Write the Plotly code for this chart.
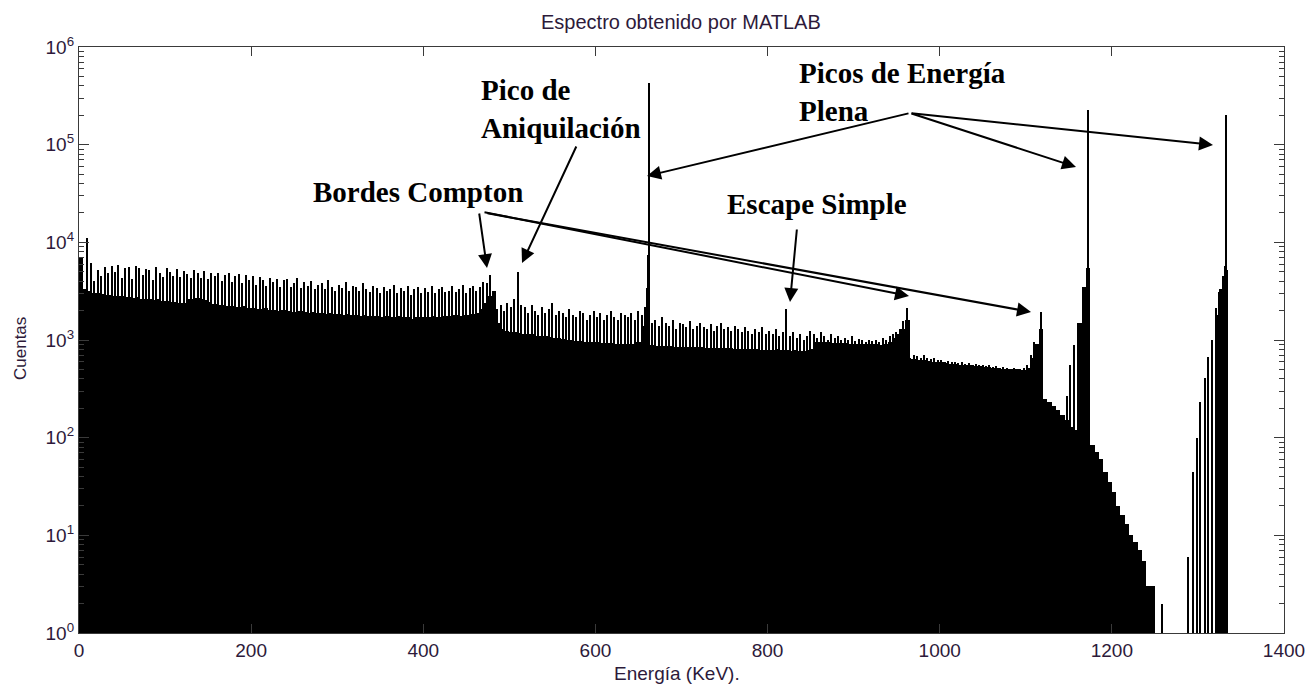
import plotly.graph_objects as go

# ---------------- data ----------------
# Solid part of the spectrum: counts per 5 keV bin (bin left edges 0, 5, 10, ...)
base_counts = [
    7000, 3300, 3200, 3000, 3000, 2950, 2900, 2900, 2850, 2800,      # 0-45
    2800, 2750, 2700, 2750, 2650, 2600, 2650, 2550, 2600, 2500,      # 50-95
    2500, 2450, 2450, 2400, 2400, 2600, 2650, 2700, 2650, 2550,      # 100-145
    2450, 2350, 2300, 2300, 2250, 2250, 2200, 2200, 2250, 2150,      # 150-195
    2150, 2100, 2100, 2150, 2050, 2050, 2000, 2050, 2000, 1950,      # 200-245
    1950, 2000, 1950, 1900, 1950, 1900, 1900, 1850, 1900, 1850,      # 250-295
    1850, 1800, 1850, 1800, 1800, 1750, 1800, 1750, 1750, 1750,      # 300-345
    1700, 1750, 1700, 1700, 1750, 1700, 1700, 1650, 1700, 1700,      # 350-395
    1700, 1700, 1750, 1700, 1750, 1750, 1750, 1800, 1750, 1800,      # 400-445
    1800, 1850, 1900, 2100, 2400, 2800, 3200, 1500, 1300, 1250,      # 450-495
    1200, 1200, 1180, 1150, 1150, 1150, 1100, 1100, 1100, 1080,      # 500-545
    1050, 1050, 1020, 1000, 1000, 980, 980, 960, 950, 950,           # 550-595
    950, 940, 930, 930, 920, 920, 900, 900, 920, 950,                # 600-645
    950, 1400, 880, 880, 870, 870, 860, 860, 850, 850,               # 650-695
    850, 850, 840, 840, 840, 830, 830, 830, 820, 820,                # 700-745
    820, 820, 810, 810, 810, 800, 800, 800, 790, 790,                # 750-795
    790, 790, 800, 790, 790, 780, 790, 780, 780, 790,                # 800-845
    800, 950, 960, 950, 950, 940, 940, 930, 930, 920,                # 850-895
    920, 910, 910, 900, 900, 900, 890, 900, 950, 1050,               # 900-945
    1150, 1300, 1600, 640, 640, 630, 620, 610, 600, 600,             # 950-995
    590, 580, 570, 570, 560, 560, 550, 550, 540, 540,                # 1000-1045
    530, 530, 520, 520, 510, 510, 500, 500, 500, 490,                # 1050-1095
    520, 650, 900, 1300, 250, 230, 210, 190, 170, 150,               # 1100-1145
    130, 120, 1500, 3500, 5500, 85, 72, 60, 45, 35,                  # 1150-1195
    28, 20, 16, 13, 10, 8.5, 7, 5.5, 3, 3,                           # 1200-1245
    None, None, None, None, None, None, None, None, None, None,      # 1250-1295
    None, None, None, None, 1800, 3300, 5200,                        # 1300-1330
]
base_energy = [2.5 + 5 * i for i in range(len(base_counts))]

# Narrow channel spikes on top of the continuum, every 4 keV from 2 to 1110 keV
spike_counts = [
    7000, 3000, 11000, 6200, 4000, 5200, 4500, 5600, 4800, 5700,     # 2-38
    5000, 5800, 4300, 5500, 5600, 4200, 5700, 5400, 4600, 5300,      # 42-78
    5200, 4100, 5600, 4900, 4400, 5500, 5000, 4500, 5300, 4400,      # 82-118
    5100, 4700, 4300, 5200, 4900, 4300, 5100, 4200, 4800, 4500,      # 122-158
    4900, 4000, 4600, 4800, 3900, 4500, 4700, 3800, 4600, 4100,      # 162-198
    4500, 3700, 4400, 4100, 3600, 4300, 3900, 4200, 3500, 4100,      # 202-238
    4200, 3500, 3800, 4300, 3400, 3900, 3600, 4000, 3300, 3700,      # 242-278
    3800, 3300, 4100, 3500, 3200, 3700, 3400, 3900, 3200, 3600,      # 282-318
    3500, 3200, 3800, 3300, 3100, 3600, 3400, 3000, 3500, 3200,      # 322-358
    3300, 3700, 3000, 3400, 3200, 3600, 2900, 3300, 3500, 3000,      # 362-398
    3400, 3100, 3600, 3000, 3300, 3500, 3100, 3200, 3600, 3100,      # 402-438
    3300, 3700, 3000, 3400, 3600, 3200, 3500, 3900, 3800, 4600,      # 442-478
    2400, 2100, 2300, 2000, 2400, 2200, 2600, 5000, 2300, 2200,      # 482-518
    1900, 2300, 2000, 1800, 2200, 1900, 2100, 2400, 1800, 2000,      # 522-558
    1900, 1700, 2100, 1800, 1700, 2000, 1900, 1600, 1800, 2000,      # 562-598
    1700, 1900, 1600, 1800, 2000, 1700, 1600, 1900, 1800, 1700,      # 602-638
    1900, 1600, 2000, 1800, 1700, 3500, 1500, 1600, 1400, 1700,      # 642-678
    1500, 1400, 1600, 1300, 1500, 1450, 1350, 1550, 1300, 1400,      # 682-718
    1500, 1350, 1300, 1450, 1250, 1400, 1500, 1300, 1350, 1250,      # 722-758
    1400, 1300, 1200, 1350, 1250, 1150, 1300, 1200, 1350, 1150,      # 762-798
    1250, 1150, 1300, 1100, 1200, 2100, 1100, 1200, 1050, 1150,      # 802-838
    1000, 1100, 1250, 1150, 1050, 1200, 1100, 1000, 1150, 1050,      # 842-878
    1100, 1000, 1050, 1000, 1100, 980, 1020, 1000, 960, 1000,        # 882-918
    980, 1000, 960, 1050, 1000, 1100, 1150, 1200, 1300, 1550,        # 922-958
    2150, 650, 700, 680, 660, 700, 650, 640, 660, 620,               # 962-998
    620, 600, 610, 590, 600, 580, 590, 570, 580, 560,                # 1002-1038
    570, 550, 560, 540, 550, 530, 540, 520, 530, 520,                # 1042-1078
    510, 520, 500, 510, 520, 560, 700, 950,                          # 1082-1110
]
spike_energy = [2 + 4 * i for i in range(len(spike_counts))]

# Individual lines: photopeaks (662, 1173, 1333 keV), edges and sparse tail channels
peak_energy = [658, 660, 661, 662, 1118, 1148, 1152, 1156, 1173, 1258,
               1289, 1294, 1299, 1303, 1308, 1312, 1316, 1321, 1325, 1329, 1332, 1333]
peak_counts = [2200, 3400, 7500, 430000, 1930, 270, 550, 880, 228000, 2,
               6, 44, 100, 230, 410, 670, 1000, 2150, 3100, 4500, 5700, 200000]

x_ticks = [0, 200, 400, 600, 800, 1000, 1200, 1400]
y_ticks = [1, 10, 100, 1000, 10000, 100000, 1000000]
y_ticktext = ["10<sup>0</sup>", "10<sup>1</sup>", "10<sup>2</sup>", "10<sup>3</sup>",
              "10<sup>4</sup>", "10<sup>5</sup>", "10<sup>6</sup>"]
y_minor = [m * 10 ** d for d in range(6) for m in range(2, 10)]

# ---------------- figure ----------------
W, H = 1305, 687
ML, MR, MT, MB = 79, 21, 47, 54
PW = W - ML - MR
PH = H - MT - MB
X0, X1 = 0, 1400
Y0, Y1 = 0, 6


def px2x(px):
    return X0 + (px - ML) / PW * (X1 - X0)


def py2y(py):
    return Y0 + (MT + PH - py) / PH * (Y1 - Y0)


txt_col = "#2d1a3a"
axis_col = "#3a3a3a"

fig = go.Figure()
fig.add_trace(go.Bar(x=base_energy, y=base_counts, width=5,
                     marker=dict(color="black", line=dict(width=0)),
                     showlegend=False, hoverinfo="skip"))
fig.add_trace(go.Bar(x=spike_energy, y=spike_counts, width=1.6,
                     marker=dict(color="black", line=dict(width=0)),
                     showlegend=False, hoverinfo="skip"))
fig.add_trace(go.Bar(x=peak_energy, y=peak_counts, width=1.6,
                     marker=dict(color="black", line=dict(width=0)),
                     showlegend=False, hoverinfo="skip"))

ann = []
lab_font = dict(family="Liberation Serif, Times New Roman, serif", size=29, color="black")
texts = [
    ("<b>Pico de<br>Aniquilación</b>", 479, 109),
    ("<b>Bordes Compton</b>", 311, 192),
    ("<b>Picos de Energía<br>Plena</b>", 797, 92),
    ("<b>Escape Simple</b>", 725, 204),
]
for t, px, py in texts:
    ann.append(dict(text=t, x=px2x(px), y=py2y(py), xref="x", yref="y",
                    xanchor="left", yanchor="middle", align="left",
                    showarrow=False, font=lab_font))

arrows = [
    # (head px, head py, tail px, tail py)
    (487, 268, 479, 212),
    (909, 296, 483, 212),
    (1031, 312, 486, 213),
    (522, 263, 577, 145),
    (647, 176, 910, 113),
    (1076, 167, 910, 113),
    (1213, 145, 910, 113),
    (790, 302, 797, 228),
]
for hx, hy, tx, ty in arrows:
    ann.append(dict(text="", x=px2x(hx), y=py2y(hy), ax=px2x(tx), ay=py2y(ty),
                    xref="x", yref="y", axref="x", ayref="y",
                    showarrow=True, arrowhead=2, arrowsize=1.4, arrowwidth=2,
                    arrowcolor="black", standoff=0))

# axis titles and title, placed by pixel position
paper_texts = [
    ("Energía (KeV).", 677, 673, 0, 19),
    ("Cuentas", 20, 349, -90, 17),
    ("Espectro obtenido por MATLAB", 681, 22, 0, 20),
]
for t, px, py, ang, sz in paper_texts:
    ann.append(dict(text=t, x=(px - ML) / PW, y=(H - py - MB) / PH, textangle=ang,
                    xref="paper", yref="paper", xanchor="center", yanchor="middle",
                    showarrow=False,
                    font=dict(family="Liberation Sans, Arial", size=sz, color=txt_col)))

fig.update_layout(
    width=W, height=H,
    margin=dict(l=ML, r=MR, t=MT, b=MB, pad=0, autoexpand=False),
    plot_bgcolor="white", paper_bgcolor="white",
    barmode="overlay", bargap=0,
    annotations=ann,
    xaxis=dict(range=[X0, X1], tickvals=x_ticks, ticks="inside", ticklen=9,
               tickcolor=axis_col, showline=True, linecolor=axis_col, linewidth=1.2,
               mirror="ticks", showgrid=False, zeroline=False, automargin=False,
               ticklabeloverflow="allow",
               tickfont=dict(family="Liberation Sans, Arial", size=19, color=txt_col)),
    yaxis=dict(type="log", range=[Y0, Y1], tickvals=y_ticks, ticktext=y_ticktext,
               ticks="inside", ticklen=10, tickcolor=axis_col,
               minor=dict(tickvals=y_minor, ticks="inside", ticklen=5, tickcolor=axis_col,
                          showgrid=False),
               showline=True, linecolor=axis_col, linewidth=1.2, mirror="ticks",
               showgrid=False, zeroline=False, automargin=False,
               ticklabeloverflow="allow",
               tickfont=dict(family="Liberation Sans, Arial", size=19, color=txt_col)),
)

fig.write_html("out.html")
